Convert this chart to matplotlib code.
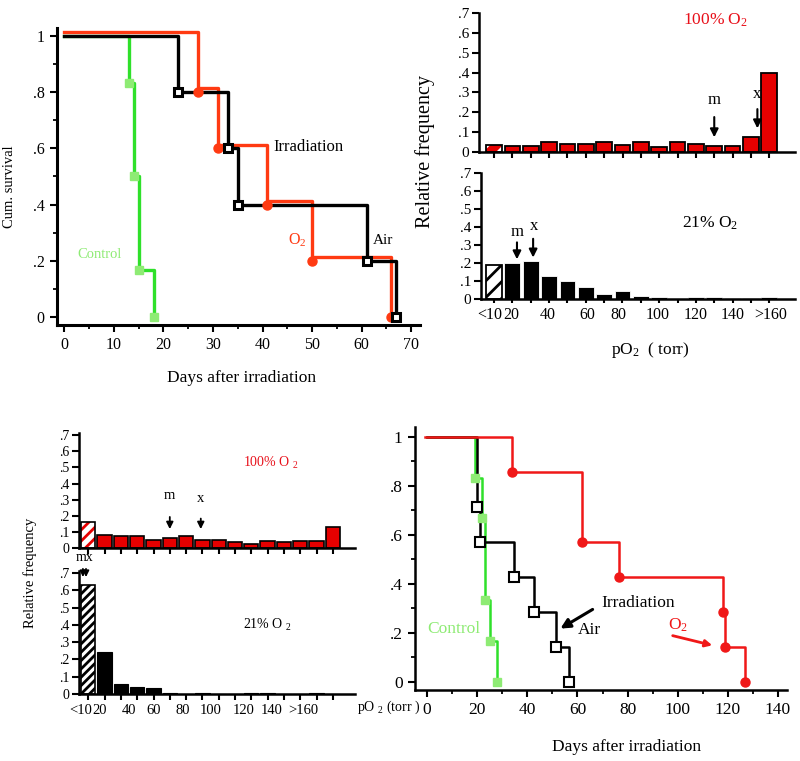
import matplotlib
matplotlib.use("Agg")
import matplotlib.pyplot as plt
import numpy as np

# ---------------- data ----------------
# Panel A (top-left survival)
a_air_days = [23, 33, 35, 61, 67]
a_air_surv = [0.8, 0.6, 0.4, 0.2, 0.0]
a_o2_days = [27, 31, 41, 50, 66]
a_o2_surv = [0.8, 0.6, 0.4, 0.2, 0.0]
a_ctrl_days = [13, 14, 15, 18]
a_ctrl_surv = [0.833, 0.5, 0.167, 0.0]

# Panel B (top-right histograms)
b_o2_freq = [0.034, 0.03, 0.03, 0.052, 0.042, 0.042, 0.049, 0.034, 0.049, 0.027,
             0.049, 0.039, 0.03, 0.03, 0.076, 0.396]
b_air_freq = [0.19, 0.20, 0.21, 0.13, 0.10, 0.065, 0.03, 0.045, 0.018, 0.01,
              0.002, 0.013, 0.01, 0.006, 0.003, 0.011]
b_tick_labels = ["<10", "20", "40", "60", "80", "100", "120", "140", ">160"]
b_label_pos = [0.75, 1.93, 3.9, 6.07, 7.8, 9.9, 11.97, 13.98, 16.05]

# Panel C (bottom-left histograms)
c_o2_freq = [0.16, 0.078, 0.072, 0.072, 0.051, 0.062, 0.076, 0.051, 0.047, 0.037,
             0.025, 0.041, 0.037, 0.041, 0.041, 0.128]
c_air_freq = [0.63, 0.245, 0.058, 0.039, 0.033, 0.005, 0.002, 0.004, 0.001, 0.001,
              0.004, 0.004, 0.001, 0.001, 0.004, 0.001]
c_tick_labels = ["<10", "20", "40", "60", "80", "100", "120", "140", ">160"]
c_label_pos = [0.55, 1.72, 3.5, 5.03, 6.8, 8.53, 10.5, 12.27, 14.2]

# Panel D (bottom-right survival)
d_air_days = [20, 21, 34.5, 42.5, 51.5, 56.5]
d_air_surv = [0.714, 0.571, 0.429, 0.286, 0.143, 0.0]
d_o2_days = [34, 62, 76.5, 118, 119, 127]
d_o2_surv = [0.857, 0.571, 0.429, 0.286, 0.143, 0.0]
d_ctrl_days = [19, 22, 23, 25, 28]
d_ctrl_surv = [0.833, 0.667, 0.333, 0.167, 0.0]

# ---------------- style ----------------
plt.rcParams['font.family'] = ['Liberation Serif', 'DejaVu Serif']
plt.rcParams['mathtext.fontset'] = 'custom'
plt.rcParams['mathtext.rm'] = 'Liberation Serif'
plt.rcParams['mathtext.it'] = 'Liberation Serif:italic'
plt.rcParams['hatch.linewidth'] = 2.0

W, H = 800, 761
fig = plt.figure(figsize=(8, 7.61), dpi=100)


def ax_px(x0, y0, x1, y1):
    return fig.add_axes([x0 / W, 1 - y1 / H, (x1 - x0) / W, (y1 - y0) / H])


def fx(x):
    return x / W


def fy(y):
    return 1 - y / H


def style_axes(ax, lw=1.8):
    for s in ['top', 'right']:
        ax.spines[s].set_visible(False)
    for s in ['left', 'bottom']:
        ax.spines[s].set_linewidth(lw)
    ax.tick_params(direction='out', which='major', length=5, width=1.5, color='k')
    ax.tick_params(direction='out', which='minor', length=3, width=1.3, color='k')


def km(days, surv):
    t = [0] + list(days)
    s = [1.0] + list(surv)
    return t, s


RED_A = '#FF3A12'
RED_D = '#F01818'
GREEN_L = '#2FE02A'
GREEN_M = '#8EEB74'
BAR_RED = '#E60000'

# ---------------- Panel A ----------------
axA = ax_px(57, 28, 420, 325)
style_axes(axA, 2.2)
t, s = km(a_ctrl_days, a_ctrl_surv)
axA.step(t, s, where='post', color=GREEN_L, lw=2.4, zorder=2)
axA.plot(a_ctrl_days, a_ctrl_surv, 's', color=GREEN_M, ms=6, zorder=5)
t, s = km(a_o2_days, a_o2_surv)
axA.step(t, np.array(s) + 0.013, where='post', color=RED_A, lw=2.4, zorder=3)
axA.plot(a_o2_days, a_o2_surv, 'o', color=RED_A, ms=6.5, zorder=5)
t, s = km(a_air_days, a_air_surv)
axA.step(t, s, where='post', color='k', lw=2.4, zorder=4)
axA.plot(a_air_days, a_air_surv, 's', mfc='white', mec='k', mew=2.2, ms=6.2, zorder=6)
axA.set_xlim(-1.5, 71.8)
axA.set_ylim(-0.028, 1.028)
axA.set_xticks(np.arange(0, 71, 10))
axA.set_xticks(np.arange(5, 71, 10), minor=True)
axA.set_yticks([0, .2, .4, .6, .8, 1], ['0', '.2', '.4', '.6', '.8', '1'])
axA.set_yticks([.1, .3, .5, .7, .9], minor=True)
axA.tick_params(labelsize=11.5, pad=4)
fig.text(fx(10), fy(187), 'Cum. survival', rotation=90, ha='center', va='center', fontsize=10.5)
fig.text(fx(242), fy(378), 'Days after irradiation', ha='center', va='center', fontsize=12.5)
fig.text(fx(273), fy(147), 'Irradiation', ha='left', va='center', fontsize=12)
fig.text(fx(373), fy(240), 'Air', ha='left', va='center', fontsize=11)
fig.text(fx(288), fy(240), r'O$_2$', ha='left', va='center', fontsize=11.5, color=RED_A)
fig.text(fx(77), fy(255), 'Control', ha='left', va='center', fontsize=10.5, color=GREEN_M)

# ---------------- Panel B ----------------
hist_yt = [0, .1, .2, .3, .4, .5, .6, .7]
hist_yl = ['0', '.1', '.2', '.3', '.4', '.5', '.6', '.7']

axB1 = ax_px(479, 13, 795, 152)
style_axes(axB1, 1.8)
xb = np.arange(1, len(b_o2_freq) + 1)
axB1.bar(xb[1:], b_o2_freq[1:], width=0.86, color=BAR_RED, edgecolor='k', lw=1.3)
axB1.bar(xb[:1], b_o2_freq[:1], width=0.86, color=BAR_RED, edgecolor='white', hatch='//', lw=0)
axB1.bar(xb[:1], b_o2_freq[:1], width=0.86, fill=False, edgecolor='k', lw=1.3)
axB1.set_xlim(0.18, 17.4)
axB1.set_ylim(0, 0.7)
axB1.set_xticks(xb, [''] * len(xb))
axB1.set_yticks(hist_yt, hist_yl)
axB1.tick_params(labelsize=11, pad=2)
axB1.tick_params(axis='x', length=4)
axB1.text(13, 0.22, 'm', ha='center', va='bottom', fontsize=12)
axB1.annotate('', xy=(13, 0.06), xytext=(13, 0.19),
              arrowprops=dict(arrowstyle='-|>', color='k', lw=1.5, mutation_scale=12))
axB1.text(15.35, 0.25, 'x', ha='center', va='bottom', fontsize=12)
axB1.annotate('', xy=(15.35, 0.105), xytext=(15.35, 0.23),
              arrowprops=dict(arrowstyle='-|>', color='k', lw=1.5, mutation_scale=12))
fig.text(fx(715), fy(20), r'100% O$_2$', ha='center', va='center', fontsize=12.5, color='#E8101A')

axB2 = ax_px(481, 173, 795, 299)
style_axes(axB2, 1.8)
axB2.bar(xb[1:], b_air_freq[1:], width=0.86, color='k', edgecolor='white', lw=0.6)
axB2.bar(xb[:1], b_air_freq[:1], width=0.86, color='white', edgecolor='k', hatch='//', lw=1.3)
axB2.set_xlim(0.29, 17.4)
axB2.set_ylim(0, 0.7)
axB2.set_xticks(xb, [''] * len(xb))
axB2.set_xticks(b_label_pos, b_tick_labels, minor=True)
axB2.set_yticks(hist_yt, hist_yl)
axB2.tick_params(labelsize=11, pad=2)
axB2.tick_params(axis='x', which='major', length=3)
axB2.tick_params(axis='x', which='minor', length=0, labelsize=11.5, pad=6)
axB2.text(2.25, 0.33, 'm', ha='center', va='bottom', fontsize=12)
axB2.annotate('', xy=(2.25, 0.205), xytext=(2.25, 0.33),
              arrowprops=dict(arrowstyle='-|>', color='k', lw=1.5, mutation_scale=12))
axB2.text(3.2, 0.36, 'x', ha='center', va='bottom', fontsize=12)
axB2.annotate('', xy=(3.13, 0.215), xytext=(3.13, 0.35),
              arrowprops=dict(arrowstyle='-|>', color='k', lw=1.5, mutation_scale=12))
fig.text(fx(710), fy(223), r'21% O$_2$', ha='center', va='center', fontsize=12.5)
fig.text(fx(650), fy(350), r'pO$_2$  ( torr)', ha='center', va='center', fontsize=12.5)
fig.text(fx(425), fy(152), 'Relative frequency', rotation=90, ha='center', va='center', fontsize=14.5)

# ---------------- Panel C ----------------
axC1 = ax_px(79, 433, 355, 548)
style_axes(axC1, 1.8)
xc = np.arange(1, len(c_o2_freq) + 1)
axC1.bar(xc[1:], c_o2_freq[1:], width=0.88, color=BAR_RED, edgecolor='k', lw=1.2)
axC1.bar(xc[:1], c_o2_freq[:1], width=0.88, color='white', edgecolor=BAR_RED, hatch='///', lw=0)
axC1.bar(xc[:1], c_o2_freq[:1], width=0.88, fill=False, edgecolor='k', lw=1.2)
axC1.set_xlim(0.43, 17.36)
axC1.set_ylim(0, 0.714)
axC1.set_xticks(xc, [''] * len(xc))
axC1.set_yticks(hist_yt, hist_yl)
axC1.tick_params(labelsize=10, pad=2)
axC1.tick_params(axis='x', length=4)
axC1.text(6.0, 0.285, 'm', ha='center', va='bottom', fontsize=10.5)
axC1.annotate('', xy=(6.0, 0.1), xytext=(6.0, 0.21),
              arrowprops=dict(arrowstyle='-|>', color='k', lw=1.3, mutation_scale=10))
axC1.text(7.9, 0.265, 'x', ha='center', va='bottom', fontsize=10.5)
axC1.annotate('', xy=(7.9, 0.1), xytext=(7.9, 0.2),
              arrowprops=dict(arrowstyle='-|>', color='k', lw=1.3, mutation_scale=10))
fig.text(fx(243), fy(463), r'100% O $_2$', ha='left', va='center', fontsize=10, color='#E8101A')

axC2 = ax_px(79, 571, 355, 694)
style_axes(axC2, 1.8)
axC2.bar(xc[1:], c_air_freq[1:], width=0.88, color='k', edgecolor='k', lw=0.8)
axC2.bar(xc[:1], c_air_freq[:1], width=0.88, color='white', edgecolor='k', hatch='////', lw=1.2)
axC2.set_xlim(0.43, 17.36)
axC2.set_ylim(0, 0.711)
axC2.set_xticks(xc, [''] * len(xc))
axC2.set_xticks(c_label_pos, c_tick_labels, minor=True)
axC2.set_yticks(hist_yt, hist_yl)
axC2.tick_params(labelsize=10, pad=2)
axC2.tick_params(axis='x', which='major', length=4)
axC2.tick_params(axis='x', which='minor', length=0, labelsize=10.5, pad=7)
axC2.text(0.75, 0.79, 'mx', ha='center', va='center', fontsize=10)
axC2.annotate('', xy=(0.67, 0.66), xytext=(0.67, 0.74), annotation_clip=False,
              arrowprops=dict(arrowstyle='-|>', color='k', lw=1.2, mutation_scale=9))
axC2.annotate('', xy=(0.86, 0.66), xytext=(0.86, 0.74), annotation_clip=False,
              arrowprops=dict(arrowstyle='-|>', color='k', lw=1.2, mutation_scale=9))
fig.text(fx(243), fy(625), r'21% O $_2$', ha='left', va='center', fontsize=10)
fig.text(fx(357), fy(707), r'pO $_2$ (torr )', ha='left', va='center', fontsize=10)
fig.text(fx(30), fy(573), 'Relative frequency', rotation=90, ha='center', va='center', fontsize=10.5)

# ---------------- Panel D ----------------
axD = ax_px(415, 427, 787, 690)
style_axes(axD, 1.8)
t, s = km(d_ctrl_days, d_ctrl_surv)
axD.step(t, s, where='post', color=GREEN_L, lw=1.8, zorder=2)
axD.plot(d_ctrl_days, d_ctrl_surv, 's', color=GREEN_M, ms=6, zorder=5)
t, s = km(d_air_days, d_air_surv)
axD.step(t, s, where='post', color='k', lw=1.8, zorder=3)
axD.plot(d_air_days, d_air_surv, 's', mfc='white', mec='k', mew=1.5, ms=6.5, zorder=6)
t, s = km(d_o2_days, d_o2_surv)
axD.step([-1] + t[1:], s, where='post', color=RED_D, lw=1.8, zorder=4)
axD.plot(d_o2_days, d_o2_surv, 'o', color=RED_D, ms=6.5, zorder=6)
axD.set_xlim(-4.8, 143.6)
axD.set_ylim(-0.033, 1.04)
axD.set_xticks(np.arange(0, 141, 20))
axD.set_xticks(np.arange(10, 141, 20), minor=True)
axD.set_yticks([0, .2, .4, .6, .8, 1], ['0', '.2', '.4', '.6', '.8', '1'])
axD.set_yticks([.1, .3, .5, .7, .9], minor=True)
axD.tick_params(labelsize=12.5, pad=4)
fig.text(fx(601), fy(603), 'Irradiation', ha='left', va='center', fontsize=12.5)
fig.text(fx(578), fy(630), 'Air', ha='left', va='center', fontsize=12.5)
fig.text(fx(668), fy(625), r'O$_2$', ha='left', va='center', fontsize=12.5, color=RED_D)
fig.text(fx(427), fy(629), 'Control', ha='left', va='center', fontsize=12.5, color=GREEN_M)
fig.text(fx(627), fy(747), 'Days after irradiation', ha='center', va='center', fontsize=12.5)
fig.patches.append(matplotlib.patches.FancyArrowPatch(
    (fx(595), fy(608)), (fx(558), fy(630)), transform=fig.transFigure, figure=fig,
    arrowstyle='-|>', mutation_scale=14, lw=2.2, color='k'))
fig.patches.append(matplotlib.patches.FancyArrowPatch(
    (fx(670), fy(635)), (fx(715), fy(646)), transform=fig.transFigure, figure=fig,
    arrowstyle='-|>', mutation_scale=10, lw=2, color=RED_D))

fig.savefig('out.png', dpi=100)
